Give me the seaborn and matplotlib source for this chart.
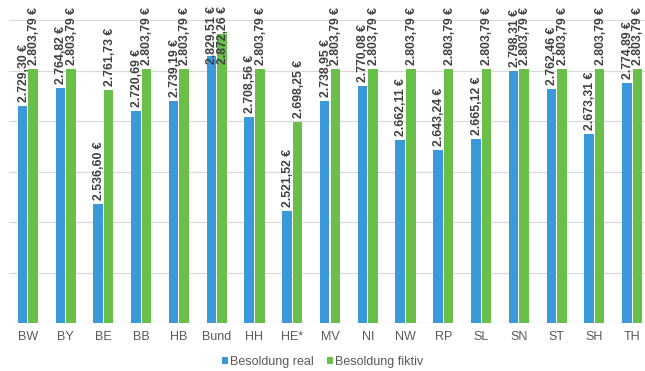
import pandas as pd
import seaborn as sns
import matplotlib.pyplot as plt
from matplotlib import font_manager

# Daten
laender = ["BW", "BY", "BE", "BB", "HB", "Bund", "HH", "HE*", "MV", "NI",
           "NW", "RP", "SL", "SN", "ST", "SH", "TH"]
real = [2729.30, 2764.82, 2536.60, 2720.69, 2739.19, 2829.51, 2708.56, 2521.52, 2738.95,
        2770.08, 2662.11, 2643.24, 2665.12, 2798.31, 2762.46, 2673.31, 2774.89]
fiktiv = [2803.79, 2803.79, 2761.73, 2803.79, 2803.79, 2872.26, 2803.79, 2698.25, 2803.79,
          2803.79, 2803.79, 2803.79, 2803.79, 2803.79, 2803.79, 2803.79, 2803.79]
serien = ["Besoldung real", "Besoldung fiktiv"]

df = pd.DataFrame({
    "land": laender * 2,
    "wert": real + fiktiv,
    "serie": [serien[0]] * len(laender) + [serien[1]] * len(laender),
})

sns.set_style("white")
namen = {f.name for f in font_manager.fontManager.ttflist}
schrift = "Liberation Sans Narrow" if "Liberation Sans Narrow" in namen else "Liberation Sans"
plt.rcParams["font.family"] = [schrift, "DejaVu Sans"]

fig = plt.figure(figsize=(6.45, 3.71), dpi=100)
ax = fig.add_axes([9 / 645, 48 / 371, 642 / 645, 303 / 371])

sns.barplot(data=df, x="land", y="wert", hue="serie", palette=["#3a9ad9", "#6abf4a"],
            saturation=1, width=0.56, gap=0.1, linewidth=0, ax=ax, legend=True)

ax.set_ylim(2300, 2900)
ax.set_xlim(-0.5, 16.5)
ax.set_yticks(range(2300, 3000, 100))
ax.set_yticklabels([])
ax.yaxis.grid(True, color="#d9d9d9", linewidth=0.9)
ax.set_axisbelow(True)
ax.tick_params(axis="both", length=0)
ax.tick_params(axis="x", labelsize=9, labelcolor="#595959", pad=6)
ax.set_xlabel("")
ax.set_ylabel("")
sns.despine(ax=ax, left=True, top=True, right=True, bottom=True)


def euro(v):
    s = f"{v:,.2f}".replace(",", "X").replace(".", ",").replace("X", ".")
    return s + " €"


for cont in ax.containers:
    for bar in cont:
        x = bar.get_x() + bar.get_width() / 2
        h = bar.get_y() + bar.get_height()
        if h > 2815:
            ax.annotate(euro(h), xy=(x, 1.0), xycoords=("data", "axes fraction"),
                        xytext=(1, 14), textcoords="offset pixels", rotation=90,
                        ha="center", va="top", fontsize=8.8, fontweight="bold",
                        color="#404040", annotation_clip=False)
        else:
            ax.annotate(euro(h), xy=(x, h), xytext=(1, 4), textcoords="offset pixels",
                        rotation=90, ha="center", va="bottom", fontsize=8.8,
                        fontweight="bold", color="#404040", annotation_clip=False)

handles, labels = ax.get_legend_handles_labels()
ax.get_legend().remove()
fig.legend(handles, labels, loc="center", bbox_to_anchor=(0.5, 9 / 371), ncol=2,
           frameon=False, fontsize=9, labelcolor="#595959", handlelength=0.5,
           handleheight=0.5, handletextpad=0.2, columnspacing=1.0)

fig.savefig("out.png", dpi=100)
